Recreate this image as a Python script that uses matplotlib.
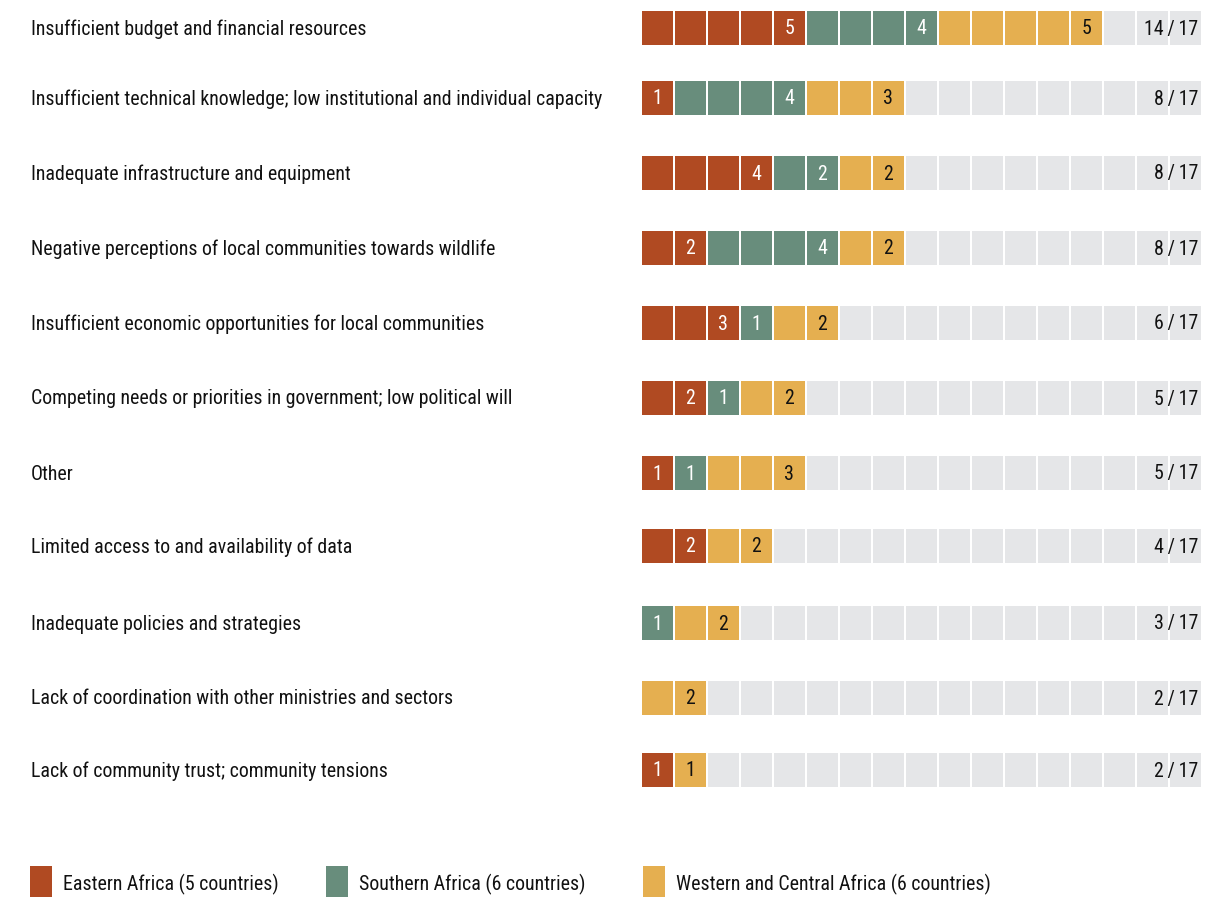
import matplotlib
matplotlib.use("Agg")
import matplotlib.pyplot as plt
from matplotlib import font_manager

# --- data -------------------------------------------------------------
challenges = [
    "Insufficient budget and financial resources",
    "Insufficient technical knowledge; low institutional and individual capacity",
    "Inadequate infrastructure and equipment",
    "Negative perceptions of local communities towards wildlife",
    "Insufficient economic opportunities for local communities",
    "Competing needs or priorities in government; low political will",
    "Other",
    "Limited access to and availability of data",
    "Inadequate policies and strategies",
    "Lack of coordination with other ministries and sectors",
    "Lack of community trust; community tensions",
]
eastern = [5, 1, 4, 2, 3, 2, 1, 2, 0, 0, 1]
southern = [4, 4, 2, 4, 1, 1, 1, 0, 1, 0, 0]
western = [5, 3, 2, 2, 2, 2, 3, 2, 2, 2, 1]
total_countries = 17
regions = ["Eastern Africa (5 countries)", "Southern Africa (6 countries)",
           "Western and Central Africa (6 countries)"]

# --- style ------------------------------------------------------------
COLORS = ["#B04A22", "#688D7C", "#E5AF50"]
TEXT_ON = ["white", "white", "#111111"]
EMPTY = "#E5E6E8"

names = {f.name for f in font_manager.fontManager.ttflist}
family = "Roboto"
for cand in ["Roboto Condensed", "Liberation Sans Narrow", "Open Sans Condensed"]:
    if cand in names:
        family = cand
        break
plt.rcParams["font.family"] = [family, "DejaVu Sans"]
FS = 12.9 if family == "Roboto" else 14.3

fig = plt.figure(figsize=(12.15, 8.97), dpi=100)
ax = fig.add_axes([0, 0, 1, 1])
ax.set_xlim(0, 1215)
ax.set_ylim(897, 0)
ax.axis("off")

# layout (pixel units)
x0, step, cell_w = 641.5, 33.0, 31.2
row_y = [28, 98, 173, 248, 323, 398, 473, 546, 623, 698, 770]
cell_h = 34.5

for r, label in enumerate(challenges):
    yc = row_y[r]
    counts = [eastern[r], southern[r], western[r]]
    colors = []
    for ci, c in enumerate(counts):
        colors += [COLORS[ci]] * c
    colors += [EMPTY] * (total_countries - len(colors))
    lefts = [x0 + i * step for i in range(total_countries)]
    ax.bar(lefts, [cell_h] * total_countries, width=cell_w, bottom=yc - cell_h / 2,
           align="edge", color=colors, linewidth=0)
    # value labels in the last cell of each group
    pos = 0
    for ci, c in enumerate(counts):
        if c:
            pos += c
            ax.text(x0 + (pos - 1) * step + cell_w / 2, yc + 1, str(c), ha="center",
                    va="center", fontsize=FS, color=TEXT_ON[ci])
    ax.text(31, yc + 1, label, ha="left", va="center", fontsize=FS, color="#111111")
    ax.text(1198, yc + 1, f"{sum(counts)}\u2009/\u2009{total_countries}", ha="right",
            va="center", fontsize=FS, color="#111111")

# legend
leg_x = [30, 326, 643]
for i, name in enumerate(regions):
    ax.bar([leg_x[i]], [31], width=22, bottom=866, align="edge", color=COLORS[i], linewidth=0)
    ax.text(leg_x[i] + 33, 884, name, ha="left", va="center", fontsize=FS, color="#111111")

fig.savefig("out.png", dpi=100)
